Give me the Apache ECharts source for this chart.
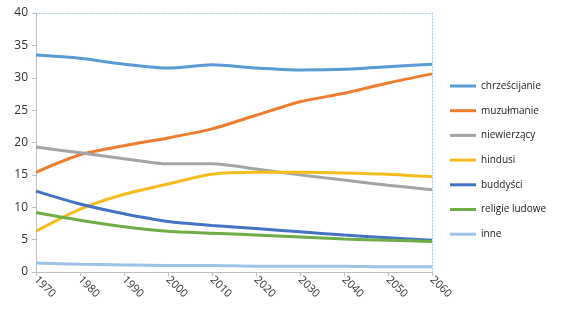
<!DOCTYPE html>
<html><head><meta charset="utf-8">
<script src="https://cdn.jsdelivr.net/npm/echarts@6/dist/echarts.min.js"></script>
<style>html,body{margin:0;padding:0;background:#fff}#c{width:570px;height:323px}</style>
</head><body><div id="c"></div>
<script>
const years = ['1970','1980','1990','2000','2010','2020','2030','2040','2050','2060'];
const names = ['chrześcijanie','muzułmanie','niewierzący','hindusi','buddyści','religie ludowe','inne'];
const chrzescijanie = [33.5, 33.0, 32.1, 31.5, 32.0, 31.5, 31.2, 31.3, 31.7, 32.1];
const muzulmanie = [15.4, 18.1, 19.5, 20.7, 22.1, 24.2, 26.3, 27.6, 29.2, 30.6];
const niewierzacy = [19.3, 18.4, 17.5, 16.7, 16.7, 15.9, 15.0, 14.2, 13.4, 12.7];
const hindusi = [6.3, 9.7, 12.0, 13.6, 15.1, 15.4, 15.4, 15.3, 15.1, 14.7];
const buddysci = [12.5, 10.5, 9.0, 7.8, 7.2, 6.7, 6.2, 5.7, 5.3, 4.9];
const religieLudowe = [9.2, 8.0, 7.0, 6.3, 6.0, 5.7, 5.4, 5.1, 4.9, 4.7];
const inne = [1.4, 1.2, 1.1, 1.0, 1.0, 0.9, 0.9, 0.9, 0.8, 0.8];
const yTicks = [0, 5, 10, 15, 20, 25, 30, 35, 40];

const allData = [chrzescijanie, muzulmanie, niewierzacy, hindusi, buddysci, religieLudowe, inne];
const colors = ['#5b9bd5','#ed7d31','#a5a5a5','#f5bb1f','#4472c4','#70ad47','#9dc3e6'];
const font = 'Open Sans, sans-serif';

const chart = echarts.init(document.getElementById('c'));
chart.setOption({
  animation: false,
  color: colors,
  textStyle: {fontFamily: font},
  grid: {left: 36, right: 138, top: 13, bottom: 51},
  legend: {
    orient: 'vertical', left: 445, top: 76,
    icon: 'rect', itemWidth: 26, itemHeight: 3, itemGap: 14.7,
    textStyle: {fontSize: 10, color: '#222', fontFamily: font},
    data: names
  },
  xAxis: [{
    type: 'category', data: years, boundaryGap: false,
    axisLine: {lineStyle: {color: '#bfbfbf', width: 1}},
    axisTick: {show: true, alignWithLabel: true, lineStyle: {color: '#bfbfbf'}, length: 4},
    axisLabel: {rotate: -45, fontSize: 11, color: '#333', margin: 6},
    splitLine: {show: false}
  }, {
    type: 'category', data: years, boundaryGap: false, position: 'top',
    axisLine: {show: true, onZero: false, lineStyle: {color: '#9dc3e6', type: [1, 2]}},
    axisTick: {show: false}, axisLabel: {show: false}
  }],
  yAxis: [{
    type: 'value', min: 0, max: 40, interval: 5,
    axisLine: {show: true, lineStyle: {color: '#bfbfbf'}},
    axisTick: {show: true, length: 4, lineStyle: {color: '#bfbfbf'}},
    axisLabel: {fontSize: 12, color: '#333', margin: 8,
      formatter: v => yTicks.includes(v) ? String(v) : ''},
    splitLine: {show: false}
  }, {
    type: 'value', min: 0, max: 40, interval: 5, position: 'right',
    axisLine: {show: true, onZero: false, lineStyle: {color: '#9dc3e6', type: [1, 2]}},
    axisTick: {show: false}, axisLabel: {show: false}, splitLine: {show: false}
  }],
  series: names.map((n, i) => ({
    name: n, type: 'line', data: allData[i], smooth: 0.25,
    showSymbol: false, symbol: 'none',
    lineStyle: {width: 3, color: colors[i]}
  }))
});
</script></body></html>
